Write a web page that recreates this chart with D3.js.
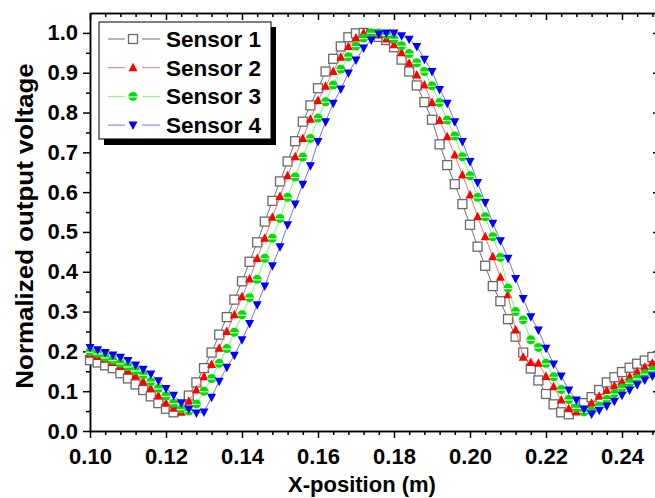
<!DOCTYPE html>
<html>
<head>
<meta charset="utf-8">
<script src="https://cdn.jsdelivr.net/npm/d3@7"></script>
<style>
  body { margin: 0; background: #fff; }
  svg { display: block; font-family: "Liberation Sans", Arial, sans-serif; }
  .axis path, .axis line { stroke: #000; stroke-width: 1.5; }
  .axis text { font-size: 22px; font-weight: bold; fill: #000; }
</style>
</head>
<body>
<script>
// x-position of every sample (m)
var xPos = [0.100,0.102,0.104,0.106,0.108,0.110,0.112,0.114,0.116,0.118,
  0.120,0.122,0.124,0.126,0.128,0.130,0.132,0.134,0.136,0.138,
  0.140,0.142,0.144,0.146,0.148,0.150,0.152,0.154,0.156,0.158,
  0.160,0.162,0.164,0.166,0.168,0.170,0.172,0.174,0.176,0.178,
  0.180,0.182,0.184,0.186,0.188,0.190,0.192,0.194,0.196,0.198,
  0.200,0.202,0.204,0.206,0.208,0.210,0.212,0.214,0.216,0.218,
  0.220,0.222,0.224,0.226,0.228,0.230,0.232,0.234,0.236,0.238,
  0.240,0.242,0.244,0.246,0.248,0.250];

var sensor1 = [0.178,0.172,0.165,0.158,0.145,0.132,0.117,0.103,0.087,0.070,
  0.056,0.047,0.062,0.089,0.122,0.158,0.197,0.242,0.286,0.330,
  0.376,0.425,0.474,0.526,0.578,0.627,0.677,0.728,0.777,0.818,
  0.861,0.903,0.935,0.966,0.989,0.999,1.000,0.997,0.990,0.982,
  0.964,0.933,0.903,0.868,0.826,0.782,0.720,0.668,0.620,0.570,
  0.518,0.463,0.415,0.364,0.326,0.281,0.237,0.197,0.157,0.127,
  0.093,0.067,0.047,0.042,0.055,0.070,0.085,0.103,0.122,0.135,
  0.148,0.159,0.169,0.177,0.186,0.192];

var sensor2 = [0.193,0.187,0.180,0.172,0.162,0.151,0.138,0.124,0.107,0.088,
  0.070,0.057,0.047,0.075,0.103,0.136,0.167,0.208,0.250,0.292,
  0.337,0.382,0.433,0.484,0.537,0.589,0.641,0.689,0.735,0.783,
  0.830,0.866,0.903,0.939,0.966,0.987,1.000,1.000,0.995,0.985,
  0.970,0.950,0.924,0.894,0.869,0.825,0.780,0.739,0.693,0.643,
  0.593,0.538,0.488,0.438,0.386,0.342,0.254,0.185,0.172,0.170,
  0.137,0.111,0.078,0.056,0.048,0.053,0.070,0.087,0.102,0.113,
  0.124,0.136,0.149,0.160,0.170,0.177];

var sensor3 = [0.199,0.195,0.185,0.178,0.170,0.162,0.152,0.141,0.124,0.107,
  0.088,0.070,0.055,0.050,0.068,0.100,0.132,0.170,0.207,0.248,
  0.292,0.335,0.381,0.434,0.484,0.534,0.587,0.638,0.688,0.735,
  0.786,0.827,0.869,0.909,0.940,0.967,0.987,1.000,1.000,0.995,
  0.985,0.968,0.948,0.925,0.903,0.867,0.825,0.781,0.741,0.689,
  0.641,0.587,0.538,0.488,0.436,0.359,0.300,0.279,0.229,0.210,
  0.170,0.136,0.104,0.079,0.058,0.048,0.050,0.063,0.080,0.094,
  0.108,0.121,0.132,0.144,0.153,0.160];

var sensor4 = [0.210,0.204,0.197,0.191,0.185,0.177,0.166,0.155,0.143,0.126,
  0.107,0.090,0.071,0.055,0.045,0.048,0.085,0.125,0.160,0.190,
  0.229,0.270,0.317,0.364,0.415,0.463,0.518,0.570,0.620,0.666,
  0.727,0.777,0.823,0.859,0.899,0.932,0.962,0.982,0.997,1.000,
  1.000,0.993,0.984,0.966,0.934,0.903,0.858,0.823,0.777,0.727,
  0.677,0.624,0.574,0.522,0.478,0.434,0.383,0.333,0.287,0.254,
  0.208,0.168,0.138,0.103,0.078,0.055,0.043,0.052,0.063,0.075,
  0.090,0.103,0.116,0.128,0.138,0.146];

var seriesNames = ["Sensor 1", "Sensor 2", "Sensor 3", "Sensor 4"];
var xTicks = [0.10, 0.12, 0.14, 0.16, 0.18, 0.20, 0.22, 0.24];
var yTicks = [0.0, 0.1, 0.2, 0.3, 0.4, 0.5, 0.6, 0.7, 0.8, 0.9, 1.0];

var W = 655, H = 498;
var margin = { left: 90, right: 660, top: 13, bottom: 431 };

var x = d3.scaleLinear().domain([0.10, 0.25]).range([margin.left, margin.right]);
var y = d3.scaleLinear().domain([0, 1.05]).range([margin.bottom, margin.top]);

var svg = d3.select("body").append("svg")
  .attr("width", W)
  .attr("height", H);

// minor ticks
var xMinor = d3.range(0.10, 0.2501, 0.004).filter(function(v) { return Math.abs(v / 0.02 - Math.round(v / 0.02)) > 0.01; });
var yMinor = d3.range(0.05, 1.05, 0.1);

function drawAxis(axisFn, scale, pos, major, minor, fmt, pad) {
  var g = svg.append("g").attr("class", "axis").attr("transform", pos);
  g.call(axisFn(scale).tickValues(minor).tickSize(4).tickSizeOuter(0).tickFormat(""));
  var g2 = svg.append("g").attr("class", "axis").attr("transform", pos);
  g2.call(axisFn(scale).tickValues(major).tickSize(7).tickSizeOuter(0).tickPadding(pad || 5)
    .tickFormat(fmt || ""));
  return g2;
}

drawAxis(d3.axisBottom, x, "translate(0," + margin.bottom + ")", xTicks, xMinor, d3.format(".2f"), 10);
drawAxis(d3.axisLeft, y, "translate(" + margin.left + ",0)", yTicks, yMinor, d3.format(".1f"), 5);
drawAxis(d3.axisBottom, x, "translate(0," + margin.top + ")", xTicks, xMinor, null);
drawAxis(d3.axisLeft, y, "translate(" + margin.right + ",0)", yTicks, yMinor, null);

// axis titles
svg.append("text")
  .attr("x", 362).attr("y", 492)
  .attr("text-anchor", "middle")
  .style("font-size", "22px").style("font-weight", "bold")
  .text("X-position (m)");

svg.append("text")
  .attr("transform", "translate(33," + 226 + ") rotate(-90) scale(1.08,1)")
  .attr("text-anchor", "middle")
  .style("font-size", "24px").style("font-weight", "bold")
  .text("Normalized output voltage");

var styles = [
  { line: "#707070", sym: "square" },
  { line: "#ff7070", sym: "up" },
  { line: "#70ff70", sym: "circle" },
  { line: "#7070ff", sym: "down" }
];

function drawSymbol(g, kind, cx, cy) {
  if (kind == "square") {
    g.append("rect").attr("x", cx - 4.5).attr("y", cy - 4.5).attr("width", 9).attr("height", 9)
      .attr("fill", "#fff").attr("stroke", "#6a6a6a").attr("stroke-width", 1.3);
  } else if (kind == "up") {
    g.append("path").attr("d", "M" + cx + "," + (cy - 5) + "L" + (cx + 4.5) + "," + (cy + 3.5) + "L" + (cx - 4.5) + "," + (cy + 3.5) + "Z")
      .attr("fill", "#ff0000");
  } else if (kind == "down") {
    g.append("path").attr("d", "M" + cx + "," + (cy + 5) + "L" + (cx + 4.5) + "," + (cy - 3.5) + "L" + (cx - 4.5) + "," + (cy - 3.5) + "Z")
      .attr("fill", "#0000ff");
  } else {
    g.append("circle").attr("cx", cx).attr("cy", cy).attr("r", 4.5).attr("fill", "#00e000");
    g.append("line").attr("x1", cx - 4.5).attr("x2", cx + 4.5).attr("y1", cy + 0.5).attr("y2", cy + 0.5)
      .attr("stroke", "#e0ffe0").attr("stroke-width", 1.2);
  }
}

var allSeries = [sensor1, sensor2, sensor3, sensor4];

allSeries.forEach(function(vals, i) {
  var pts = xPos.map(function(xv, k) { return { x: xv, v: vals[k] }; });
  var g = svg.append("g");
  g.append("path")
    .datum(pts)
    .attr("fill", "none")
    .attr("stroke", styles[i].line)
    .attr("stroke-width", 1)
    .attr("d", d3.line().x(function(d) { return x(d.x); }).y(function(d) { return y(d.v); }));
  pts.forEach(function(d) { drawSymbol(g, styles[i].sym, x(d.x), y(d.v)); });
});

// legend with drop shadow
var lg = svg.append("g");
lg.append("rect").attr("x", 104).attr("y", 27).attr("width", 172).attr("height", 118).attr("fill", "#000");
lg.append("rect").attr("x", 99).attr("y", 22).attr("width", 172).attr("height", 117)
  .attr("fill", "#fff").attr("stroke", "#000").attr("stroke-width", 1);

seriesNames.forEach(function(name, i) {
  var ry = 39 + i * 28.7;
  lg.append("line").attr("x1", 108).attr("x2", 125).attr("y1", ry).attr("y2", ry)
    .attr("stroke", styles[i].line).attr("stroke-width", 1);
  lg.append("line").attr("x1", 142).attr("x2", 160).attr("y1", ry).attr("y2", ry)
    .attr("stroke", styles[i].line).attr("stroke-width", 1);
  drawSymbol(lg, styles[i].sym, 133, ry);
  lg.append("text").attr("x", 166).attr("y", ry + 8)
    .style("font-size", "22.5px").style("font-weight", "bold")
    .text(name);
});
</script>
</body>
</html>
